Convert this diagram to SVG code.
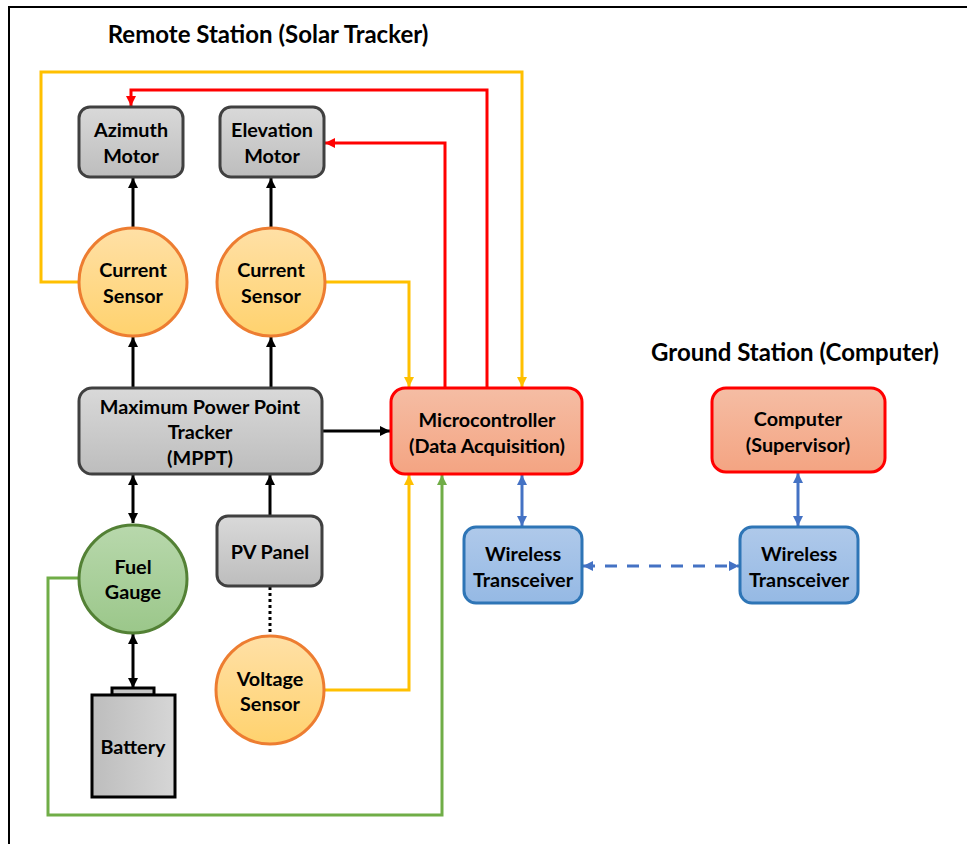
<svg xmlns="http://www.w3.org/2000/svg" width="967" height="844" viewBox="0 0 967 844">
  <style>
    text { font-family: Lato, "Open Sans", "Liberation Sans", sans-serif; font-weight: bold; fill: #000; text-anchor: middle; }
    .lbl { font-size: 19.8px; }
    .title { font-size: 24px; }
    .gray { fill: url(#gGray); stroke: #404040; stroke-width: 3; }
    .sensor { fill: url(#gOrange); stroke: #ED7D31; stroke-width: 3; }
    .fuel { fill: url(#gGreen); stroke: #538135; stroke-width: 3; }
    .mcu { fill: url(#gSalmon); stroke: #FF0000; stroke-width: 3; }
    .radio { fill: url(#gBlue); stroke: #2E75B6; stroke-width: 3; }
    .wire { fill: none; stroke-width: 3; }
    .k { stroke: #000; }
    .y { stroke: #FFC000; }
    .r { stroke: #FF0000; }
    .g { stroke: #70AD47; }
    .b { stroke: #4472C4; }
  </style>
  <defs>
    <linearGradient id="gGray" x1="0" y1="0" x2="0" y2="1">
      <stop offset="0" stop-color="#D9D9D9"/>
      <stop offset="1" stop-color="#BDBDBD"/>
    </linearGradient>
    <linearGradient id="gBatt" x1="0" y1="0" x2="1" y2="0">
      <stop offset="0" stop-color="#BDBDBD"/>
      <stop offset="1" stop-color="#D6D6D6"/>
    </linearGradient>
    <linearGradient id="gOrange" x1="0" y1="0" x2="0" y2="1">
      <stop offset="0" stop-color="#FFE0A6"/>
      <stop offset="1" stop-color="#FFD26E"/>
    </linearGradient>
    <linearGradient id="gGreen" x1="0" y1="0" x2="0" y2="1">
      <stop offset="0" stop-color="#B8D8AC"/>
      <stop offset="1" stop-color="#9BC78A"/>
    </linearGradient>
    <linearGradient id="gSalmon" x1="0" y1="0" x2="0" y2="1">
      <stop offset="0" stop-color="#F5BDA4"/>
      <stop offset="1" stop-color="#F4A482"/>
    </linearGradient>
    <linearGradient id="gBlue" x1="0" y1="0" x2="0" y2="1">
      <stop offset="0" stop-color="#AFC9EA"/>
      <stop offset="1" stop-color="#95B9E4"/>
    </linearGradient>
    <marker id="aK" viewBox="0 0 10 10" refX="10" refY="5" markerWidth="11" markerHeight="10" markerUnits="userSpaceOnUse" orient="auto-start-reverse">
      <path d="M0,0 L10,5 L0,10 z" fill="#000"/>
    </marker>
    <marker id="aY" viewBox="0 0 10 10" refX="10" refY="5" markerWidth="11" markerHeight="10" markerUnits="userSpaceOnUse" orient="auto-start-reverse">
      <path d="M0,0 L10,5 L0,10 z" fill="#FFC000"/>
    </marker>
    <marker id="aR" viewBox="0 0 10 10" refX="10" refY="5" markerWidth="11" markerHeight="10" markerUnits="userSpaceOnUse" orient="auto-start-reverse">
      <path d="M0,0 L10,5 L0,10 z" fill="#FF0000"/>
    </marker>
    <marker id="aG" viewBox="0 0 10 10" refX="10" refY="5" markerWidth="11" markerHeight="10" markerUnits="userSpaceOnUse" orient="auto-start-reverse">
      <path d="M0,0 L10,5 L0,10 z" fill="#70AD47"/>
    </marker>
    <marker id="aB" viewBox="0 0 10 10" refX="10" refY="5" markerWidth="11" markerHeight="10" markerUnits="userSpaceOnUse" orient="auto-start-reverse">
      <path d="M0,0 L10,5 L0,10 z" fill="#4472C4"/>
    </marker>
  </defs>

  <rect width="967" height="844" fill="#FFFFFF"/>
  <!-- outer frame (top and left edges visible) -->
  <path d="M9,844 L9,7 L967,7" fill="none" stroke="#000" stroke-width="2"/>

  <text class="title" x="268" y="43">Remote Station (Solar Tracker)</text>
  <text class="title" x="795" y="361">Ground Station (Computer)</text>

  <!-- connectors -->
  <g id="connectors">
    <line class="wire k" x1="133" y1="228" x2="133" y2="178" marker-end="url(#aK)"/>
    <line class="wire k" x1="271" y1="228" x2="271" y2="178" marker-end="url(#aK)"/>
    <line class="wire k" x1="133" y1="388" x2="133" y2="337" marker-end="url(#aK)"/>
    <line class="wire k" x1="271" y1="388" x2="271" y2="337" marker-end="url(#aK)"/>
    <line class="wire k" x1="133" y1="475" x2="133" y2="523" marker-start="url(#aK)" marker-end="url(#aK)"/>
    <line class="wire k" x1="270" y1="516" x2="270" y2="475" marker-end="url(#aK)"/>
    <line class="wire k" x1="133" y1="634" x2="133" y2="688" marker-start="url(#aK)" marker-end="url(#aK)"/>
    <line class="wire k" x1="322" y1="431" x2="390" y2="431" marker-end="url(#aK)"/>
    <line fill="none" stroke="#000" stroke-width="3" stroke-dasharray="3,3" x1="270" y1="587" x2="270" y2="636"/>

    <polyline class="wire y" points="79,282 41,282 41,72 522,72 522,387" marker-end="url(#aY)"/>
    <polyline class="wire y" points="325,282 409,282 409,387" marker-end="url(#aY)"/>
    <polyline class="wire y" points="324,690 409,690 409,475" marker-end="url(#aY)"/>

    <polyline class="wire r" points="487,388 487,90 131,90 131,106" marker-end="url(#aR)"/>
    <polyline class="wire r" points="445,388 445,143 325,143" marker-end="url(#aR)"/>

    <polyline class="wire g" points="79,578 48,578 48,815 442,815 442,475" marker-end="url(#aG)"/>

    <line class="wire b" x1="522" y1="475" x2="522" y2="526" marker-start="url(#aB)" marker-end="url(#aB)"/>
    <line class="wire b" x1="798" y1="473" x2="798" y2="526" marker-start="url(#aB)" marker-end="url(#aB)"/>
    <line class="wire b" x1="583" y1="566" x2="739" y2="566" stroke-dasharray="12,10" marker-start="url(#aB)" marker-end="url(#aB)"/>
  </g>

  <!-- nodes -->
  <g id="azimuth-motor">
    <rect class="gray" x="79" y="107" width="104" height="70" rx="11"/>
    <text class="lbl" x="131" y="137">Azimuth</text>
    <text class="lbl" x="131" y="163">Motor</text>
  </g>
  <g id="elevation-motor">
    <rect class="gray" x="220" y="107" width="104" height="70" rx="11"/>
    <text class="lbl" x="272" y="137">Elevation</text>
    <text class="lbl" x="272" y="163">Motor</text>
  </g>
  <g id="current-sensor-azimuth">
    <circle class="sensor" cx="133" cy="282" r="54"/>
    <text class="lbl" x="133" y="277">Current</text>
    <text class="lbl" x="133" y="303">Sensor</text>
  </g>
  <g id="current-sensor-elevation">
    <circle class="sensor" cx="271" cy="282" r="54"/>
    <text class="lbl" x="271" y="277">Current</text>
    <text class="lbl" x="271" y="303">Sensor</text>
  </g>
  <g id="mppt">
    <rect class="gray" x="79" y="388" width="243" height="86" rx="13"/>
    <text class="lbl" x="200" y="414">Maximum Power Point</text>
    <text class="lbl" x="200" y="439">Tracker</text>
    <text class="lbl" x="200" y="465">(MPPT)</text>
  </g>
  <g id="microcontroller">
    <rect class="mcu" x="391" y="388" width="191" height="86" rx="14"/>
    <text class="lbl" x="487" y="427">Microcontroller</text>
    <text class="lbl" x="487" y="453">(Data Acquisition)</text>
  </g>
  <g id="computer">
    <rect class="mcu" x="712" y="388" width="173" height="84" rx="14"/>
    <text class="lbl" x="798" y="426">Computer</text>
    <text class="lbl" x="798" y="452">(Supervisor)</text>
  </g>
  <g id="fuel-gauge">
    <circle class="fuel" cx="133" cy="579" r="54"/>
    <text class="lbl" x="133" y="574">Fuel</text>
    <text class="lbl" x="133" y="599">Gauge</text>
  </g>
  <g id="pv-panel">
    <rect class="gray" x="217" y="516" width="105" height="70" rx="11"/>
    <text class="lbl" x="270" y="559">PV Panel</text>
  </g>
  <g id="voltage-sensor">
    <circle class="sensor" cx="270" cy="690" r="54"/>
    <text class="lbl" x="270" y="686">Voltage</text>
    <text class="lbl" x="270" y="711">Sensor</text>
  </g>
  <g id="battery">
    <rect x="112" y="688" width="42" height="7" fill="#C8C8C8" stroke="#000" stroke-width="3"/>
    <rect x="92" y="695" width="83" height="102" fill="url(#gBatt)" stroke="#000" stroke-width="3"/>
    <text class="lbl" x="133" y="754">Battery</text>
  </g>
  <g id="wireless-remote">
    <rect class="radio" x="464" y="527" width="118" height="76" rx="12"/>
    <text class="lbl" x="523" y="561">Wireless</text>
    <text class="lbl" x="523" y="587">Transceiver</text>
  </g>
  <g id="wireless-ground">
    <rect class="radio" x="740" y="527" width="118" height="76" rx="12"/>
    <text class="lbl" x="799" y="561">Wireless</text>
    <text class="lbl" x="799" y="587">Transceiver</text>
  </g>
</svg>
